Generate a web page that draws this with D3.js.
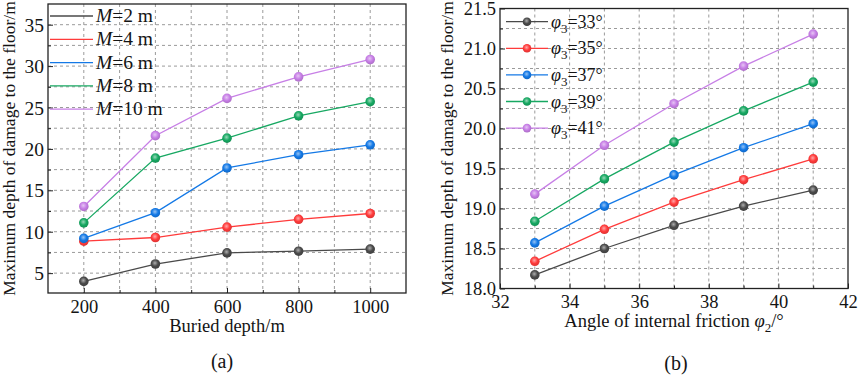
<!DOCTYPE html>
<html>
<head>
<meta charset="utf-8">
<script src="https://d3js.org/d3.v7.min.js"></script>
<style>
  body { margin: 0; background: #fff; }
  svg text { font-family: "Liberation Serif", "DejaVu Serif", "Noto Serif", serif; fill: #141414; }
</style>
</head>
<body>
<div id="chart"></div>
<script>
// ---- panel (a) data
var depthA = [200, 400, 600, 800, 1000];
var seriesA = ["2", "4", "6", "8", "10"];
var valsM2 = [4.0, 6.1, 7.45, 7.65, 7.9];
var valsM4 = [8.86, 9.3, 10.55, 11.5, 12.2];
var valsM6 = [9.2, 12.3, 17.7, 19.3, 20.5];
var valsM8 = [11.07, 18.9, 21.3, 24.0, 25.7];
var valsM10 = [13.05, 21.6, 26.1, 28.7, 30.8];
var ticksAx = [200, 400, 600, 800, 1000];
var ticksAy = [5, 10, 15, 20, 25, 30, 35];

// ---- panel (b) data
var angleB = [33, 35, 37, 39, 41];
var seriesB = ["33", "35", "37", "39", "41"];
var valsP33 = [18.17, 18.50, 18.79, 19.03, 19.23];
var valsP35 = [18.34, 18.74, 19.08, 19.36, 19.62];
var valsP37 = [18.57, 19.03, 19.42, 19.76, 20.06];
var valsP39 = [18.84, 19.37, 19.83, 20.22, 20.58];
var valsP41 = [19.18, 19.79, 20.31, 20.78, 21.18];
var ticksBx = [32, 34, 36, 38, 40, 42];
var ticksBy = [18.0, 18.5, 19.0, 19.5, 20.0, 20.5, 21.0, 21.5];

var colors = ["#4a4a4a", "#ff3b3b", "#1479e6", "#17a862", "#c77fe6"];
var serif = "'Liberation Serif', 'DejaVu Serif', 'Noto Serif', serif";

var svg = d3.select("#chart").append("svg")
	.attr("width", 858)
	.attr("height", 378)
	.attr("font-family", serif);

// sphere look for markers
var defs = svg.append("defs");
colors.forEach(function(c, i){
	var g = defs.append("radialGradient")
		.attr("id", "ball" + i)
		.attr("cx", "45%").attr("cy", "40%").attr("r", "60%");
	g.append("stop").attr("offset", "0%").attr("stop-color", d3.interpolateRgb(c, "#fff")(0.55));
	g.append("stop").attr("offset", "55%").attr("stop-color", c);
	g.append("stop").attr("offset", "100%").attr("stop-color", d3.color(c).darker(0.4));
});

function drawPanel(opt){
	var x = d3.scaleLinear().domain(opt.xDomain).range([opt.left, opt.right]);
	var y = d3.scaleLinear().domain(opt.yDomain).range([opt.bottom, opt.top]);
	var g = svg.append("g");

	// dashed grid
	g.selectAll(".gx").data(opt.gridX).enter().append("line")
		.attr("x1", function(d){ return x(d); }).attr("x2", function(d){ return x(d); })
		.attr("y1", opt.top).attr("y2", opt.bottom)
		.attr("stroke", "#9a9a9a").attr("stroke-width", 1).attr("stroke-dasharray", "3,3");
	g.selectAll(".gy").data(opt.gridY).enter().append("line")
		.attr("y1", function(d){ return y(d); }).attr("y2", function(d){ return y(d); })
		.attr("x1", opt.left).attr("x2", opt.right)
		.attr("stroke", "#9a9a9a").attr("stroke-width", 1).attr("stroke-dasharray", "3,3");

	// axes with inward ticks (major + minor)
	var allX = d3.sort(Array.from(new Set(opt.gridX.concat(opt.xTicks))));
	var allY = d3.sort(Array.from(new Set(opt.gridY.concat(opt.yTicks))));
	var isMaj = function(list, d){ return list.some(function(v){ return Math.abs(v - d) < 1e-6; }); };

	var xAxis = d3.axisBottom(x).tickValues(allX).tickSizeInner(-5).tickSizeOuter(0)
		.tickFormat(function(d){ return isMaj(opt.xTicks, d) ? d : ""; });
	var yAxis = d3.axisLeft(y).tickValues(allY).tickSizeInner(-5).tickSizeOuter(0)
		.tickFormat(function(d){ return isMaj(opt.yTicks, d) ? opt.yFmt(d) : ""; });

	var gx = g.append("g").attr("transform", "translate(0," + opt.bottom + ")").call(xAxis)
		.attr("font-family", serif);
	gx.select(".domain").remove();
	gx.selectAll(".tick line").attr("stroke", "#222").attr("y2", function(d){ return isMaj(opt.xTicks, d) ? -5 : -3; });
	gx.selectAll(".tick text").attr("font-size", 18.5).attr("dy", "0").attr("y", opt.xTickY).attr("fill", "#141414");

	var gy = g.append("g").attr("transform", "translate(" + opt.left + ",0)").call(yAxis)
		.attr("font-family", serif);
	gy.select(".domain").remove();
	gy.selectAll(".tick line").attr("stroke", "#222").attr("x2", function(d){ return isMaj(opt.yTicks, d) ? 5 : 3; });
	gy.selectAll(".tick text").attr("font-size", opt.yTickSize).attr("x", -4).attr("dy", "0.34em").attr("fill", "#141414");

	// frame
	g.append("rect")
		.attr("x", opt.left).attr("y", opt.top)
		.attr("width", opt.right - opt.left).attr("height", opt.bottom - opt.top)
		.attr("fill", "none").attr("stroke", "#222").attr("stroke-width", 1.3);

	// series
	var line = d3.line()
		.x(function(d){ return x(d[0]); })
		.y(function(d){ return y(d[1]); });
	opt.series.forEach(function(vals, i){
		var pts = opt.xs.map(function(v, j){ return [v, vals[j]]; });
		g.append("path").datum(pts)
			.attr("d", line)
			.attr("fill", "none").attr("stroke", colors[i]).attr("stroke-width", 1.3);
		g.selectAll(".m" + i).data(pts).enter().append("circle")
			.attr("cx", function(d){ return x(d[0]); })
			.attr("cy", function(d){ return y(d[1]); })
			.attr("r", 4.8)
			.attr("fill", "url(#ball" + i + ")");
	});

	// legend
	opt.names.forEach(function(n, i){
		var ly = opt.legY + i * opt.legStep;
		g.append("line")
			.attr("x1", opt.legX).attr("x2", opt.legX + opt.legLen)
			.attr("y1", ly).attr("y2", ly)
			.attr("stroke", colors[i]).attr("stroke-width", 1.3);
		if (opt.legMarker) {
			g.append("circle")
				.attr("cx", opt.legX + opt.legLen / 2).attr("cy", ly).attr("r", 4.3)
				.attr("fill", "url(#ball" + i + ")");
		}
		opt.legText(g.append("text")
			.attr("x", opt.legX + opt.legLen + 3).attr("y", ly + 6)
			.attr("font-size", opt.legSize), n);
	});

	// axis titles and caption
	g.append("text")
		.attr("transform", "translate(" + opt.yTitleX + "," + ((opt.top + opt.bottom) / 2) + ") rotate(-90)")
		.attr("text-anchor", "middle").attr("font-size", 17.5)
		.text("Maximum depth of damage to the floor/m");
	opt.xTitle(g.append("text")
		.attr("x", (opt.left + opt.right) / 2).attr("y", opt.xTitleY)
		.attr("text-anchor", "middle").attr("font-size", 18.5));
	g.append("text")
		.attr("x", opt.capX).attr("y", opt.capY)
		.attr("text-anchor", "middle").attr("font-size", 20)
		.text(opt.caption);
}

drawPanel({
	xDomain: [100, 1100], yDomain: [2.6, 37.5],
	left: 48, right: 406, top: 4, bottom: 293,
	xs: depthA,
	series: [valsM2, valsM4, valsM6, valsM8, valsM10],
	gridX: d3.range(200, 1001, 100),
	gridY: d3.range(5, 35.1, 2.5),
	xTicks: ticksAx, yTicks: ticksAy,
	yFmt: function(d){ return d; },
	yTickSize: 19.5, xTickY: 20,
	names: seriesA,
	legX: 50, legY: 16, legStep: 23.3, legLen: 43, legMarker: false, legSize: 19.5,
	legText: function(t, n){
		t.append("tspan").attr("font-style", "italic").text("M");
		t.append("tspan").text("=" + n + " m");
	},
	yTitleX: 15,
	xTitle: function(t){ t.text("Buried depth/m"); },
	xTitleY: 332,
	caption: "(a)", capX: 222, capY: 368
});

drawPanel({
	xDomain: [32, 42], yDomain: [18, 21.5],
	left: 500, right: 848, top: 8.5, bottom: 288.5,
	xs: angleB,
	series: [valsP33, valsP35, valsP37, valsP39, valsP41],
	gridX: d3.range(33, 41.1, 1),
	gridY: d3.range(18.25, 21.3, 0.25),
	xTicks: ticksBx, yTicks: ticksBy,
	yFmt: d3.format(".1f"),
	yTickSize: 18.5, xTickY: 19,
	names: seriesB,
	legX: 506, legY: 21.7, legStep: 26.6, legLen: 42, legMarker: true, legSize: 18,
	legText: function(t, n){
		t.append("tspan").attr("font-style", "italic").text("φ");
		t.append("tspan").attr("font-size", 13).attr("dy", 5).text("3");
		t.append("tspan").attr("dy", -5).text("=" + n + "°");
	},
	yTitleX: 453,
	xTitle: function(t){
		t.append("tspan").text("Angle of internal friction ");
		t.append("tspan").attr("font-style", "italic").text("φ");
		t.append("tspan").attr("font-size", 13).attr("dy", 5).text("2");
		t.append("tspan").attr("dy", -5).text("/°");
	},
	xTitleY: 327,
	caption: "(b)", capX: 676, capY: 370
});
</script>
</body>
</html>
